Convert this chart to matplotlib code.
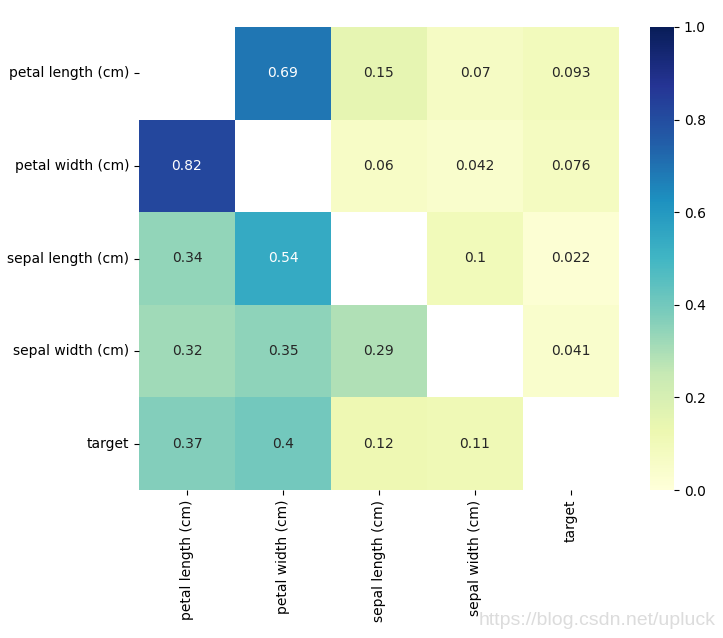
import numpy as np
import pandas as pd
import matplotlib
matplotlib.use("Agg")
import matplotlib.pyplot as plt
import seaborn as sns

labels = ["petal length (cm)", "petal width (cm)", "sepal length (cm)",
          "sepal width (cm)", "target"]
row_petal_length = [np.nan, 0.69, 0.15, 0.07, 0.093]
row_petal_width = [0.82, np.nan, 0.06, 0.042, 0.076]
row_sepal_length = [0.34, 0.54, np.nan, 0.1, 0.022]
row_sepal_width = [0.32, 0.35, 0.29, np.nan, 0.041]
row_target = [0.37, 0.4, 0.12, 0.11, np.nan]

df = pd.DataFrame([row_petal_length, row_petal_width, row_sepal_length,
                   row_sepal_width, row_target], index=labels, columns=labels)

fig = plt.figure(figsize=(7.23, 6.38), dpi=100)
ax = fig.add_axes([139/723, 1 - 490/638, 480/723, 463/638])
cax = fig.add_axes([650/723, 1 - 490/638, 24/723, 463/638])
sns.heatmap(df, ax=ax, cbar_ax=cax, cmap="YlGnBu", vmin=0, vmax=1,
            annot=True, annot_kws={"fontsize": 10})
ax.tick_params(labelsize=10)
cax.tick_params(labelsize=10)
plt.setp(ax.get_xticklabels(), rotation=90)
plt.setp(ax.get_yticklabels(), rotation=0)

fig.text(0.99, 0.028, "https://blog.csdn.net/upluck", ha="right", va="center",
         fontsize=14, color="#dcdcdc", family="Liberation Sans")

fig.savefig("out.png", dpi=100)
